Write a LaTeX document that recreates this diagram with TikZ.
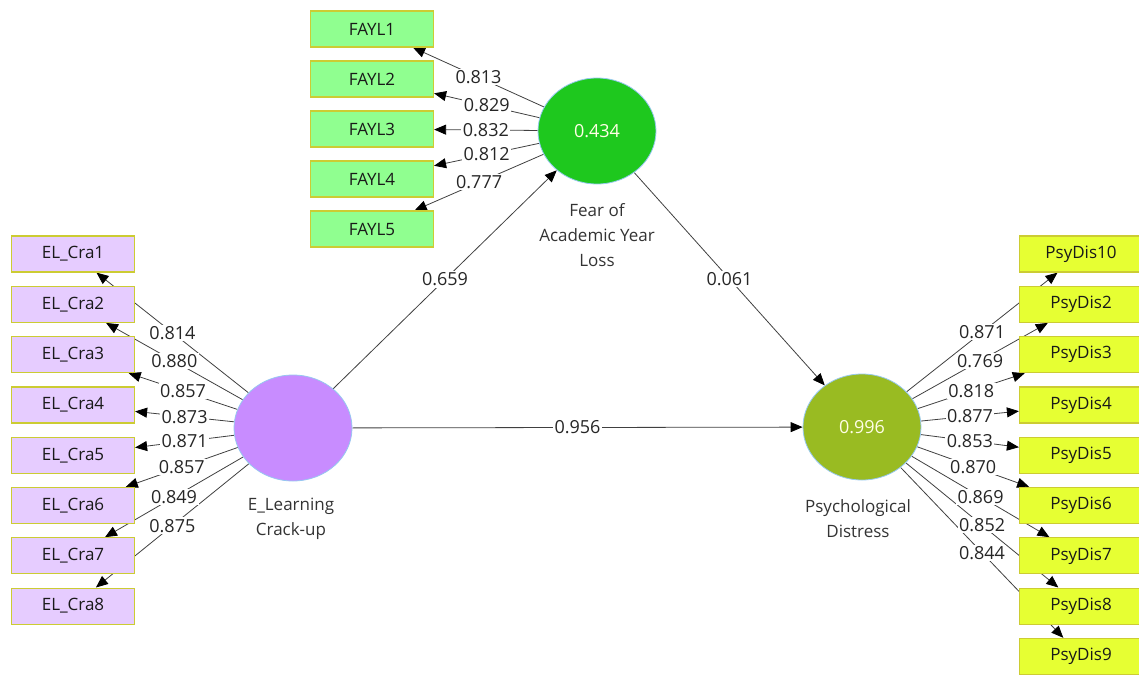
\documentclass[tikz,border=0pt]{standalone}
\usepackage{fontspec}
\setmainfont{Open Sans}
\usetikzlibrary{calc,arrows.meta,shapes.geometric,backgrounds}
\definecolor{cus-lime}{RGB}{144,255,144}
\definecolor{cus-lilac}{RGB}{230,204,255}
\definecolor{cus-yellow}{RGB}{230,255,51}
\definecolor{cus-frame}{RGB}{204,204,51}
\definecolor{cus-green}{RGB}{30,200,30}
\definecolor{cus-violet}{RGB}{200,140,255}
\definecolor{cus-olive}{RGB}{153,187,34}
\definecolor{cus-rim}{RGB}{150,200,240}

\begin{document}
\begin{tikzpicture}[x=1pt,y=-1pt,
	ind/.style={draw=cus-frame,line width=1.2pt,minimum width=123pt,minimum height=36pt,inner sep=0pt,text=black!90,font=\fontsize{17}{20}\selectfont},
	lat/.style={ellipse,draw=cus-rim,line width=0.8pt,minimum width=118pt,minimum height=106pt,inner sep=0pt,text=white!90!yellow,font=\fontsize{18}{20}\selectfont},
	latname/.style={align=center,text=black!80,font=\fontsize{17}{25}\selectfont},
	path/.style={draw=black!75,line width=0.8pt,-{Triangle[width=10pt,length=12pt,color=black]}},
	load/.style={fill=white,inner sep=1.5pt,text=black!85,font=\fontsize{18}{20}\selectfont}]
\useasboundingbox (0,0) rectangle (1139,674);

% latent variables
\node [lat,fill=cus-green] (fayl) at (597,131) {0.434};
\node [lat,fill=cus-violet] (elc) at (293,428) {};
\node [lat,fill=cus-olive] (psy) at (862,427) {0.996};
\node [latname] (fayllab) at (597,235) {Fear of\\Academic Year\\Loss};
\node [latname] (elclab) at (291,519) {E\_Learning\\Crack-up};
\node [latname] (psylab) at (858,519) {Psychological\\Distress};

% indicators
\foreach \i in {1,...,5}
	\node [ind,fill=cus-lime] (fa\i) at (372,{29+50*(\i-1)}) {FAYL\i};
\foreach \i in {1,...,8}
	\node [ind,fill=cus-lilac] (el\i) at (73,{254+50.3*(\i-1)}) {EL\_Cra\i};
\foreach \n [count=\k] in {10,2,3,4,5,6,7,8,9}
	\node [ind,fill=cus-yellow] (pd\n) at (1081,{254+50.3*(\k-1)}) {PsyDis\n};

% outer loadings
\foreach \i/\v in {1/0.813,2/0.829,3/0.832,4/0.812,5/0.777}{
	\begin{scope}[on background layer]
	\draw [path] (fayl) -- coordinate[midway] (fam\i) (fa\i);
	\end{scope}
	\node [load] (fal\i) at (fam\i) {\v};
}
\foreach \i/\v in {1/0.814,2/0.880,3/0.857,4/0.873,5/0.871,6/0.857,7/0.849,8/0.875}{
	\begin{scope}[on background layer]
	\draw [path] (elc) -- coordinate[midway] (elm\i) (el\i);
	\end{scope}
	\node [load] (ell\i) at (elm\i) {\v};
}
\foreach \n/\v in {10/0.871,2/0.769,3/0.818,4/0.877,5/0.853,6/0.870,7/0.869,8/0.852,9/0.844}{
	\begin{scope}[on background layer]
	\draw [path] (psy) -- coordinate[midway] (pdm\n) (pd\n);
	\end{scope}
	\node [load] (pdl\n) at (pdm\n) {\v};
}

% inner model
\begin{scope}[on background layer]
\draw [path] (elc) -- coordinate[midway] (m1) (fayl);
\draw [path] (fayl) -- coordinate[midway] (m2) (psy);
\draw [path] (elc) -- coordinate[midway] (m3) (psy);
\end{scope}
\node [load] (b1) at (m1) {0.659};
\node [load] (b2) at (m2) {0.061};
\node [load] (b3) at (m3) {0.956};
\end{tikzpicture}
\end{document}
